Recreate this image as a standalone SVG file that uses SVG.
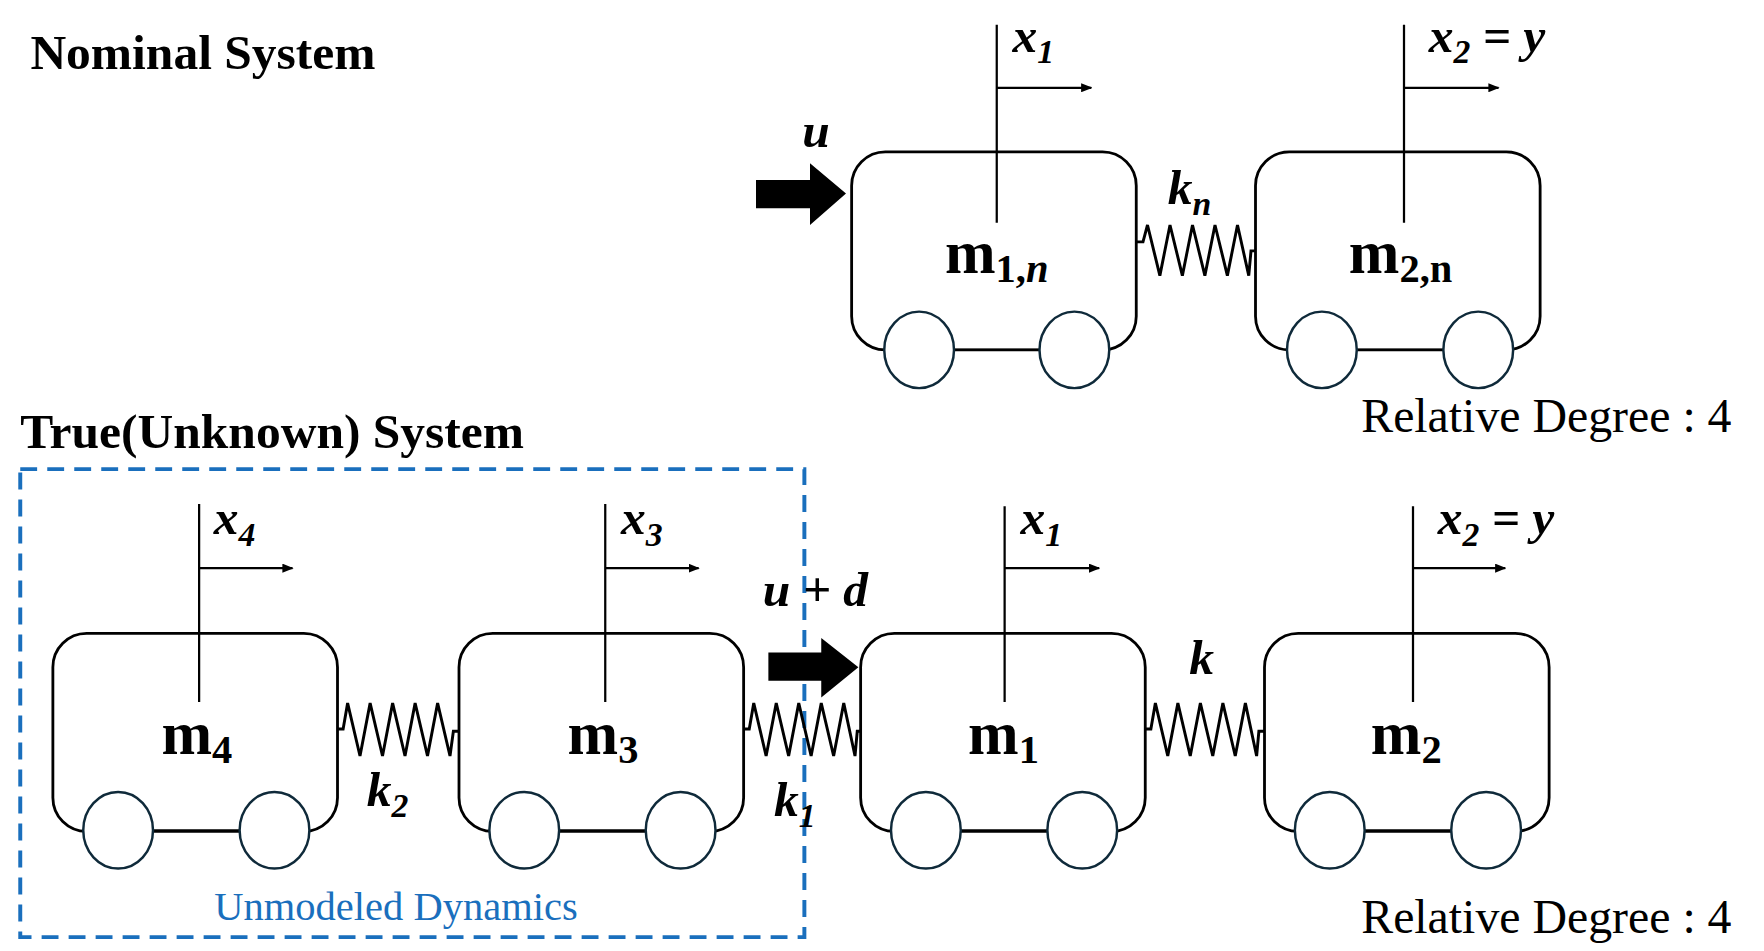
<svg xmlns="http://www.w3.org/2000/svg" width="1764" height="951" viewBox="0 0 1764 951">
<defs>
<marker id="ah" markerWidth="10" markerHeight="8" refX="9" refY="4" orient="auto" markerUnits="userSpaceOnUse"><path d="M0,0 L10,4 L0,8 z" fill="#000"/></marker>
<style>
.body{fill:#fff;stroke:#000;stroke-width:2.5}
.wheel{fill:#fff;stroke:#0f2a3a;stroke-width:2.2}
.ln{stroke:#000;stroke-width:2;fill:none}
.sp{stroke:#000;stroke-width:2.6;fill:none;stroke-linejoin:miter}
.m{font-family:"Liberation Serif",serif;font-weight:bold;font-size:54px;text-anchor:middle}
.v{font-family:"Liberation Serif",serif;font-weight:bold;font-style:italic;font-size:44px}
.sub{font-size:30px}
.title{font-family:"Liberation Serif",serif;font-weight:bold;font-size:44px}
.rd{font-family:"Liberation Serif",serif;font-size:42.5px}
</style>
</defs>
<rect width="1764" height="951" fill="#fff"/>
<g transform="scale(1.125)">
<text id="t-nominal" class="title" x="27" y="61">Nominal System</text>
<text id="t-true" class="title" x="18" y="398">True(Unknown) System</text>
<g id="unmodeled">
<rect x="18" y="417" width="697" height="416" fill="none" stroke="#1a6fbd" stroke-width="3.5" stroke-dasharray="15,9"/>
<text x="352" y="818" text-anchor="middle" font-family="Liberation Serif,serif" font-size="36" fill="#1a6fbd">Unmodeled Dynamics</text>
</g>
<g id="cart-m1n">
<rect class="body" x="757" y="135" width="253" height="176" rx="30"/>
<line class="ln" x1="817" y1="311" x2="955" y2="311"/>
<ellipse class="wheel" cx="817" cy="311" rx="31" ry="34"/><ellipse class="wheel" cx="955" cy="311" rx="31" ry="34"/>
<line class="ln" x1="886" y1="22" x2="886" y2="198"/><line class="ln" x1="886" y1="78" x2="970" y2="78" marker-end="url(#ah)"/>
<text class="v" x="900" y="46">x<tspan class="sub" dy="10">1</tspan></text>
<text class="m" x="886" y="243">m<tspan font-size="36" dy="8">1,</tspan><tspan font-style="italic" font-size="36">n</tspan></text>
</g>
<g id="cart-m2n">
<rect class="body" x="1116" y="135" width="253" height="176" rx="30"/>
<line class="ln" x1="1175" y1="311" x2="1314" y2="311"/>
<ellipse class="wheel" cx="1175" cy="311" rx="31" ry="34"/><ellipse class="wheel" cx="1314" cy="311" rx="31" ry="34"/>
<line class="ln" x1="1248" y1="22" x2="1248" y2="198"/><line class="ln" x1="1248" y1="78" x2="1332" y2="78" marker-end="url(#ah)"/>
<text class="v" x="1270" y="46">x<tspan class="sub" dy="10">2</tspan><tspan dy="-10"> = y</tspan></text>
<text class="m" x="1245" y="243">m<tspan font-size="36" dy="8">2,n</tspan></text>
</g>
<g id="cart-m4">
<rect class="body" x="47" y="563" width="253" height="176" rx="30"/>
<line class="ln" x1="105" y1="738" x2="244" y2="738"/>
<ellipse class="wheel" cx="105" cy="738" rx="31" ry="34"/><ellipse class="wheel" cx="244" cy="738" rx="31" ry="34"/>
<line class="ln" x1="177" y1="448" x2="177" y2="624"/><line class="ln" x1="177" y1="505" x2="260" y2="505" marker-end="url(#ah)"/>
<text class="v" x="190" y="475">x<tspan class="sub" dy="10">4</tspan></text>
<text class="m" x="175" y="670">m<tspan font-size="36" dy="8">4</tspan></text>
</g>
<g id="cart-m3">
<rect class="body" x="408" y="563" width="253" height="176" rx="30"/>
<line class="ln" x1="466" y1="738" x2="605" y2="738"/>
<ellipse class="wheel" cx="466" cy="738" rx="31" ry="34"/><ellipse class="wheel" cx="605" cy="738" rx="31" ry="34"/>
<line class="ln" x1="538" y1="448" x2="538" y2="624"/><line class="ln" x1="538" y1="505" x2="621" y2="505" marker-end="url(#ah)"/>
<text class="v" x="552" y="475">x<tspan class="sub" dy="10">3</tspan></text>
<text class="m" x="536" y="670">m<tspan font-size="36" dy="8">3</tspan></text>
</g>
<g id="cart-m1">
<rect class="body" x="765" y="563" width="253" height="176" rx="30"/>
<line class="ln" x1="823" y1="738" x2="962" y2="738"/>
<ellipse class="wheel" cx="823" cy="738" rx="31" ry="34"/><ellipse class="wheel" cx="962" cy="738" rx="31" ry="34"/>
<line class="ln" x1="893" y1="450" x2="893" y2="624"/><line class="ln" x1="893" y1="505" x2="977" y2="505" marker-end="url(#ah)"/>
<text class="v" x="907" y="475">x<tspan class="sub" dy="10">1</tspan></text>
<text class="m" x="892" y="670">m<tspan font-size="36" dy="8">1</tspan></text>
</g>
<g id="cart-m2">
<rect class="body" x="1124" y="563" width="253" height="176" rx="30"/>
<line class="ln" x1="1182" y1="738" x2="1321" y2="738"/>
<ellipse class="wheel" cx="1182" cy="738" rx="31" ry="34"/><ellipse class="wheel" cx="1321" cy="738" rx="31" ry="34"/>
<line class="ln" x1="1256" y1="450" x2="1256" y2="624"/><line class="ln" x1="1256" y1="505" x2="1338" y2="505" marker-end="url(#ah)"/>
<text class="v" x="1278" y="475">x<tspan class="sub" dy="10">2</tspan><tspan dy="-10"> = y</tspan></text>
<text class="m" x="1250" y="670">m<tspan font-size="36" dy="8">2</tspan></text>
</g>
<g id="connectors">
<path class="sp" d="M1010,215 H1016 L1020,200 L1031,245 L1040,200 L1051,245 L1060,200 L1071,245 L1080,200 L1091,245 L1100,200 L1110,245 L1112,223 H1116"/>
<path class="sp" d="M300,648 H305 L309,625 L320,672 L329,625 L340,672 L349,625 L360,672 L369,625 L380,672 L389,625 L400,672 L403,650 H408"/>
<path class="sp" d="M661,648 H666 L670,625 L681,672 L690,625 L701,672 L710,625 L721,672 L730,625 L741,672 L750,625 L760,672 L762,650 H765"/>
<path class="sp" d="M1018,648 H1023 L1027,625 L1038,672 L1047,625 L1058,672 L1067,625 L1078,672 L1087,625 L1098,672 L1107,625 L1117,672 L1119,650 H1124"/>
<polygon points="672,160 720,160 720,145 752,172 720,200 720,185 672,185" fill="#000"/>
<polygon points="683,580 730,580 730,567 763,593 730,620 730,605 683,605" fill="#000"/>
</g>
<g id="labels">
<text class="v" x="713" y="131">u</text>
<text class="v" x="1038" y="181">k<tspan class="sub" dy="10">n</tspan></text>
<text class="v" x="678" y="539">u + d</text>
<text class="v" x="326" y="716">k<tspan class="sub" dy="10">2</tspan></text>
<text class="v" x="688" y="725">k<tspan class="sub" dy="10">1</tspan></text>
<text class="v" x="1057" y="599">k</text>
<text class="rd" x="1210" y="384">Relative Degree : 4</text>
<text class="rd" x="1210" y="829">Relative Degree : 4</text>
</g>
</g>
</svg>
